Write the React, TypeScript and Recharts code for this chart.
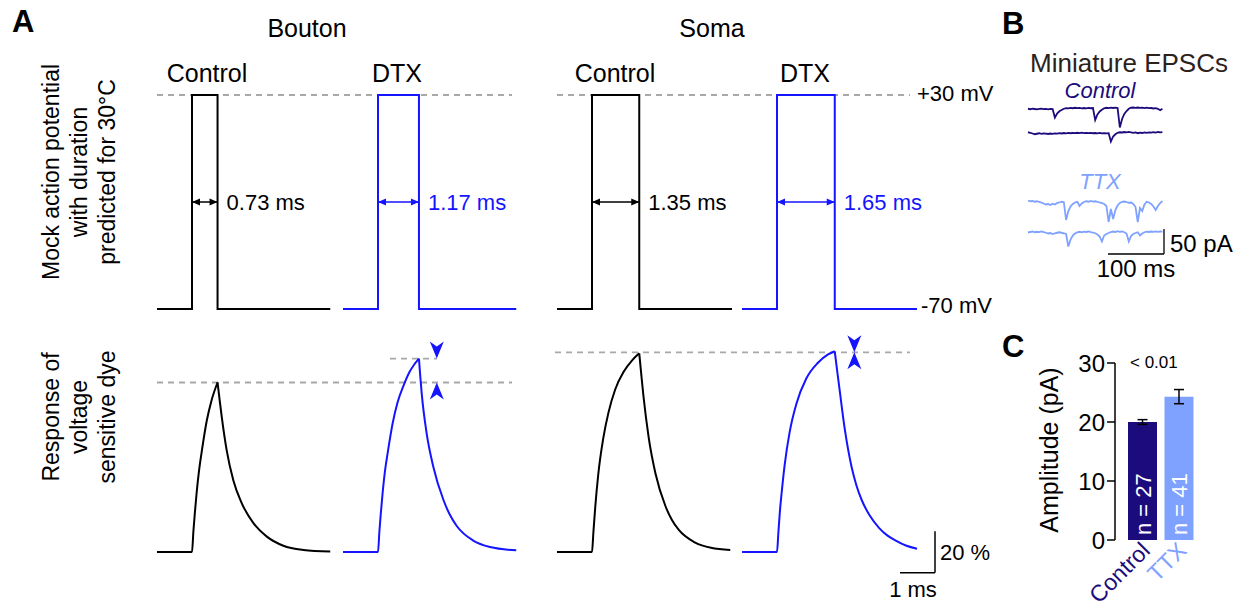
import React from 'react'
import {
  Bar,
  BarChart,
  Cell,
  ErrorBar,
  LabelList,
  Line,
  LineChart,
  ReferenceDot,
  ReferenceLine,
  XAxis,
  YAxis
} from 'recharts'

const W = 1249
const H = 608
const FONT = '"Liberation Sans", Arial, Helvetica, sans-serif'
const BLACK = '#000000'
const BLUE = '#1414ff'
const GREY = '#a8a8a8'
const NAVY = '#1b0b7c'
const LIGHT = '#7fa1ff'

// A, top: mock action potentials [ms, mV], drawn as steps
const boutonControlAP = [[0, -70], [1, 30], [1.73, -70], [4.95, -70]]
const boutonDtxAP = [[0, -70], [1, 30], [2.17, -70], [4.95, -70]]
const somaControlAP = [[0, -70], [1, 30], [2.35, -70], [5, -70]]
const somaDtxAP = [[0, -70], [1, 30], [2.65, -70], [5, -70]]

// A, bottom: dye response [ms, %], rise up to the peak and decay after it
const boutonControlRise = [[0, 0], [1, 0], [1.04, 10], [1.08, 18.5], [1.13, 28], [1.2, 39], [1.28, 48.5], [1.42, 63], [1.56, 73], [1.73, 81.5]]
const boutonControlDecay = [[1.73, 81.5], [1.79, 73], [1.85, 65], [1.99, 49], [2.18, 34.5], [2.42, 23.5], [2.75, 14], [3.13, 7.5], [3.61, 3], [4.18, 1], [4.95, 0.2]]
const boutonDtxRise = [[0, 0], [1, 0], [1.04, 10], [1.08, 18.5], [1.13, 28], [1.2, 39], [1.28, 48], [1.42, 62], [1.56, 72], [1.73, 80], [1.9, 86.5], [2.05, 90.5], [2.17, 93]]
const boutonDtxDecay = [[2.17, 93], [2.21, 84], [2.25, 76], [2.39, 57], [2.58, 41], [2.87, 25], [3.05, 18], [3.25, 12.5], [3.72, 5.5], [4.2, 2.4], [4.95, 0.8]]
const somaControlRise = [[0, 0], [1, 0], [1.04, 9.5], [1.09, 21], [1.18, 37.5], [1.32, 54.5], [1.47, 67], [1.66, 78], [1.9, 86.5], [2.14, 92], [2.35, 95.5]]
const somaControlDecay = [[2.35, 95.5], [2.41, 85], [2.47, 75], [2.62, 55], [2.81, 38], [3.1, 22], [3.28, 15.5], [3.48, 10.6], [3.95, 4.5], [4.4, 2], [4.95, 1]]
const somaDtxRise = [[0, 0], [1, 0], [1.04, 9.5], [1.09, 21], [1.13, 28], [1.22, 42], [1.36, 57.5], [1.55, 71], [1.84, 83.5], [2.17, 91], [2.46, 95], [2.65, 96.5]]
const somaDtxDecay = [[2.65, 96.5], [2.72, 87], [2.79, 77.8], [2.94, 58.7], [3.13, 41], [3.27, 32], [3.42, 25], [3.65, 17.5], [3.92, 11.5], [4.15, 8], [4.38, 5.6], [4.7, 3], [5, 1.6]]

const durationLabels = ['0.73 ms', '1.17 ms', '1.35 ms', '1.65 ms']
const boutonPeaks = [81.5, 93]
const somaPeak = 96

// B: miniature EPSCs, pA, one sample every 4 ms
const B_DT = 4
const controlSweep1 = [0.5, -0.5, 0.8, 0, -0.8, 0.3, 0.6, -0.4, 0.2, -0.6, 0.4, 0, -17, -9, -4.5, -2, 0.5, 1.8, 1.2, 2.2, 1.5, 2.5, 1.6, 2.4, 1.4, 2, 1.2, 2.3, 1.5, 2, -22, -11, -5, -1.5, 1.5, 2.5, 1.8, 2.8, 2, 2.6, 1.8, -37, -20, -10, -4, 0.5, 2.5, 3, 2.2, 3, 2.4, 2.8, 1.8, 2.6, 1.6, 2, 1, 1.6, 0.4, -2.5, 0.6]
const controlSweep2 = [1.5, 0.5, -1, -2.5, -1.5, -0.5, -1.8, -0.8, -1.2, -2, -1, -1.6, -0.6, -1.4, -0.4, -1, 0, -0.8, 0.2, -0.5, 0.3, -0.4, 0.5, -0.3, 0.6, -0.2, 0.4, -0.4, 0.2, -0.5, 0, -0.6, 0.1, -0.8, -0.2, -0.6, -0.2, -17, -7, -2.5, 0.5, 1.5, 1, 2, 1.2, 2.2, 1.4, 0.4, 1.2, -0.4, 0.8, 0, 1.2, 0.4, 1.4, 0.6, 1.6, 0.8, 2, 1.2, 1.8]
const ttxSweep1 = [3, 1.5, 2, 0.5, 1.5, 0, -1, -3, -5, -4, -6, -3.5, -5, -2, -1, 0.5, -0.5, -36, -18, -9, -4, -1, 0.5, -8, -3, 0, 1.5, 0.5, 2, 0.8, 1.5, 0.5, -1, -2, -4, -8, -40, -14, -34, -16, -7, -2, 0.5, 1, 0, -1.5, -1, -4, -10, -40, -12, -18, -5, 0.5, -1, -4, -9, -16, -8, -2, 2]
const ttxSweep2 = [0, 1, 2, 0.5, 1.5, 0.8, 2, 1, -0.5, -2, -1, -3, -1.5, -0.5, 0.5, -0.5, -1.5, -3, -28, -14, -6, -2, 0.5, 1.5, 0.5, 1.8, 1, 2, 0.8, 0, -1.5, -4, -8, -18, -6, -3, -1, 1, 2, 1, 2.5, 1.2, 2, 0.5, -2, -18, -7, -3, -1, 0.5, -6, -2, 0.5, 1.8, 1, 2, 1.4, 2.2, 1.4, 2, 1.6]

// C: mEPSC amplitude
const cCategories = ['Control', 'TTX']
const cMeans = [20.0, 24.3]
const cSem = [0.4, 1.2]
const cCounts = [27, 41]
const cColors = [NAVY, LIGHT]
const cTicks = [0, 10, 20, 30]

// layout helpers: px anchors -> axis domains
const span = (lo: number, hi: number, anchorPx: number, anchorVal: number, pxPerUnit: number, flip = false): [number, number] =>
  flip
    ? [anchorVal - (hi - anchorPx) / pxPerUnit, anchorVal + (anchorPx - lo) / pxPerUnit]
    : [anchorVal - (anchorPx - lo) / pxPerUnit, anchorVal + (hi - anchorPx) / pxPerUnit]

const A_X0 = 157
const A_PX_MS = 35
const aX = span(0, W, A_X0, 0, A_PX_MS)
const topY = span(0, 330, 95, 30, 2.14, true)
const botY = span(330, H, 552, 0, 2.08, true)
const px2t = (px: number) => (px - A_X0) / A_PX_MS

const traces = [
  { ap: boutonControlAP, rise: boutonControlRise, decay: boutonControlDecay, color: BLACK, x0: 157 },
  { ap: boutonDtxAP, rise: boutonDtxRise, decay: boutonDtxDecay, color: BLUE, x0: 343 },
  { ap: somaControlAP, rise: somaControlRise, decay: somaControlDecay, color: BLACK, x0: 557 },
  { ap: somaDtxAP, rise: somaDtxRise, decay: somaDtxDecay, color: BLUE, x0: 742 }
].map((tr, i) => ({ ...tr, off: px2t(tr.x0), on: tr.ap[1][0], offT: tr.ap[2][0], label: durationLabels[i] }))

const pts = (arr: number[][], off: number) => arr.map(([t, v]) => ({ t: t + off, v }))

const headLeft = (c: string) => (p: any) => <path d={`M${p.cx},${p.cy} l8,-3.5 l0,7 z`} fill={c} />
const headRight = (c: string) => (p: any) => <path d={`M${p.cx},${p.cy} l-8,-3.5 l0,7 z`} fill={c} />
const headDown = (c: string) => (p: any) => <path d={`M${p.cx},${p.cy} l-7,-17 l7,5 l7,-5 z`} fill={c} />
const headUp = (c: string) => (p: any) => <path d={`M${p.cx},${p.cy} l-7,17 l7,-5 l7,5 z`} fill={c} />

const NONE = { top: 0, right: 0, bottom: 0, left: 0 }
const dash = { stroke: GREY, strokeDasharray: '6 5', strokeWidth: 1.8 }

// B layout
const B_LEFT = 1020
const B_TOP = 90
const bX = span(B_LEFT, B_LEFT + 150, 1028, 0, 0.56)
const bY = span(B_TOP, 260, 260, 0, 0.5, true)
const sweeps = [
  { vals: controlSweep1, base: 302, color: NAVY },
  { vals: controlSweep2, base: 254, color: NAVY },
  { vals: ttxSweep1, base: 116, color: LIGHT },
  { vals: ttxSweep2, base: 55, color: LIGHT }
]
const barEnd = (1164 - 1028) / 0.56

const cData = cCategories.map((name, i) => ({ name, mean: cMeans[i], err: cSem[i], n: cCounts[i] }))

const CTick = (props: any) => {
  const { x, y, payload, index } = props
  return (
    <text
      x={x + 9}
      y={y + 4}
      transform={`rotate(-45, ${x + 9}, ${y + 4})`}
      textAnchor="end"
      fill={cColors[index]}
      fontSize={23}
      fontFamily={FONT}
    >
      {payload.value}
    </text>
  )
}

const NLabel = (props: any) => {
  const { x, y, width, height, value } = props
  const cx = x + width / 2 + 8
  const by = y + height - 5
  return (
    <text transform={`translate(${cx},${by}) rotate(-90)`} fill="#ffffff" fontSize={22} fontFamily={FONT}>
      n = {value}
    </text>
  )
}

const Abs = ({ left, top, children }: any) => (
  <div style={{ position: 'absolute', left, top }}>{children}</div>
)

export default function App() {
  return (
    <div style={{ position: 'absolute', left: 0, top: 0, width: W, height: H, background: '#fff', fontFamily: FONT }}>
      <Abs left={0} top={0}>
        <LineChart width={W} height={330} margin={NONE}>
          <XAxis type="number" dataKey="t" domain={aX} hide allowDataOverflow />
          <YAxis type="number" dataKey="v" domain={topY} hide allowDataOverflow />
          <ReferenceLine segment={[{ x: px2t(157), y: 30 }, { x: px2t(512), y: 30 }]} {...dash} />
          <ReferenceLine segment={[{ x: px2t(557), y: 30 }, { x: px2t(910), y: 30 }]} {...dash} />
          {traces.map((tr, i) => (
            <Line
              key={'ap' + i}
              data={pts(tr.ap, tr.off)}
              dataKey="v"
              type="stepAfter"
              stroke={tr.color}
              strokeWidth={2}
              dot={false}
              activeDot={false}
              isAnimationActive={false}
            />
          ))}
          {traces.map((tr, i) => (
            <ReferenceLine
              key={'sh' + i}
              segment={[{ x: tr.off + tr.on, y: -20 }, { x: tr.off + tr.offT, y: -20 }]}
              stroke={tr.color}
              strokeWidth={1.5}
            />
          ))}
          {traces.map((tr, i) => (
            <ReferenceDot key={'hl' + i} x={tr.off + tr.on} y={-20} shape={headLeft(tr.color)} />
          ))}
          {traces.map((tr, i) => (
            <ReferenceDot key={'hr' + i} x={tr.off + tr.offT} y={-20} shape={headRight(tr.color)} />
          ))}
        </LineChart>
      </Abs>

      <Abs left={0} top={330}>
        <LineChart width={W} height={H - 330} margin={NONE}>
          <XAxis type="number" dataKey="t" domain={aX} hide allowDataOverflow />
          <YAxis type="number" dataKey="v" domain={botY} hide allowDataOverflow />
          <ReferenceLine segment={[{ x: px2t(157), y: boutonPeaks[0] }, { x: px2t(512), y: boutonPeaks[0] }]} {...dash} />
          <ReferenceLine segment={[{ x: px2t(390), y: boutonPeaks[1] }, { x: px2t(437), y: boutonPeaks[1] }]} {...dash} />
          <ReferenceLine segment={[{ x: px2t(555), y: somaPeak }, { x: px2t(910), y: somaPeak }]} {...dash} />
          {traces.map((tr, i) => (
            <Line
              key={'r' + i}
              data={pts(tr.rise, tr.off)}
              dataKey="v"
              type="monotoneX"
              stroke={tr.color}
              strokeWidth={2}
              dot={false}
              activeDot={false}
              isAnimationActive={false}
            />
          ))}
          {traces.map((tr, i) => (
            <Line
              key={'d' + i}
              data={pts(tr.decay, tr.off)}
              dataKey="v"
              type="monotoneX"
              stroke={tr.color}
              strokeWidth={2}
              dot={false}
              activeDot={false}
              isAnimationActive={false}
            />
          ))}
          <ReferenceDot x={traces[1].off + 2.68} y={boutonPeaks[1]} shape={headDown(BLUE)} />
          <ReferenceDot x={traces[1].off + 2.68} y={boutonPeaks[0]} shape={headUp(BLUE)} />
          <ReferenceDot x={traces[3].off + 3.21} y={somaPeak} shape={headDown(BLUE)} />
          <ReferenceDot x={traces[3].off + 3.21} y={somaPeak} shape={headUp(BLUE)} />
          <ReferenceLine segment={[{ x: px2t(935) - 1, y: -10 }, { x: px2t(935), y: -10 }]} stroke={BLACK} strokeWidth={1.5} />
          <ReferenceLine segment={[{ x: px2t(935), y: -10 }, { x: px2t(935), y: 10 }]} stroke={BLACK} strokeWidth={1.5} />
        </LineChart>
      </Abs>

      <Abs left={B_LEFT} top={B_TOP}>
        <LineChart width={150} height={260 - B_TOP} margin={NONE}>
          <XAxis type="number" dataKey="t" domain={bX} hide allowDataOverflow />
          <YAxis type="number" dataKey="v" domain={bY} hide allowDataOverflow />
          {sweeps.map((s, i) => (
            <Line
              key={'s' + i}
              data={s.vals.map((v, k) => ({ t: k * B_DT, v: v + s.base }))}
              dataKey="v"
              type="linear"
              stroke={s.color}
              strokeWidth={1.8}
              dot={false}
              activeDot={false}
              isAnimationActive={false}
            />
          ))}
          <ReferenceLine segment={[{ x: barEnd - 100, y: 12 }, { x: barEnd, y: 12 }]} stroke={BLACK} strokeWidth={1.3} />
          <ReferenceLine segment={[{ x: barEnd, y: 12 }, { x: barEnd, y: 62 }]} stroke={BLACK} strokeWidth={1.3} />
        </LineChart>
      </Abs>

      <Abs left={1060} top={340}>
        <BarChart width={150} height={268} data={cData} margin={{ top: 23, right: 13, bottom: 0, left: 0 }}>
          <XAxis
            dataKey="name"
            axisLine={false}
            tickLine={false}
            height={68}
            padding={{ left: 9, right: 0 }}
            interval={0}
            tick={<CTick />}
          />
          <YAxis
            domain={[0, 30]}
            ticks={cTicks}
            width={55}
            tickSize={8}
            axisLine={{ stroke: BLACK, strokeWidth: 1.5 }}
            tickLine={{ stroke: BLACK, strokeWidth: 1.5 }}
            tick={{ fill: BLACK, fontSize: 24, fontFamily: FONT }}
          />
          <Bar dataKey="mean" barSize={29} isAnimationActive={false}>
            {cData.map((d, i) => (
              <Cell key={d.name} fill={cColors[i]} />
            ))}
            <ErrorBar dataKey="err" width={5} stroke={BLACK} strokeWidth={1.5} />
            <LabelList dataKey="n" content={NLabel} />
          </Bar>
        </BarChart>
      </Abs>

      <svg width={W} height={H} style={{ position: 'absolute', left: 0, top: 0, pointerEvents: 'none' }} fontFamily={FONT}>
        <text x={12} y={32} fontSize={31} fontWeight="bold">A</text>
        <text x={1002} y={34} fontSize={31} fontWeight="bold">B</text>
        <text x={1002} y={357} fontSize={31} fontWeight="bold">C</text>

        <text x={307} y={37} fontSize={25} textAnchor="middle">Bouton</text>
        <text x={712} y={37} fontSize={25} textAnchor="middle">Soma</text>
        <text x={207} y={82} fontSize={25} textAnchor="middle">Control</text>
        <text x={397} y={82} fontSize={25} textAnchor="middle">DTX</text>
        <text x={615} y={82} fontSize={25} textAnchor="middle">Control</text>
        <text x={805} y={82} fontSize={25} textAnchor="middle">DTX</text>
        <text x={917} y={101} fontSize={22}>+30 mV</text>
        <text x={921} y={313} fontSize={22}>-70 mV</text>
        {traces.map((tr, i) => (
          <text key={'dl' + i} x={tr.x0 + tr.offT * A_PX_MS + 9} y={210} fontSize={22} fill={tr.color}>
            {tr.label}
          </text>
        ))}

        <g fontSize={23} textAnchor="middle">
          <text transform="translate(59,172) rotate(-90)">Mock action potential</text>
          <text transform="translate(87,172) rotate(-90)">with duration</text>
          <text transform="translate(115,172) rotate(-90)">predicted for 30°C</text>
          <text transform="translate(59,417) rotate(-90)">Response of</text>
          <text transform="translate(87,417) rotate(-90)">voltage</text>
          <text transform="translate(115,417) rotate(-90)">sensitive dye</text>
        </g>
        <text x={940} y={560} fontSize={22}>20 %</text>
        <text x={913} y={597} fontSize={22} textAnchor="middle">1 ms</text>

        <text x={1030} y={72} fontSize={26} fill="#2d211c">Miniature EPSCs</text>
        <text x={1100} y={98} fontSize={22} fontStyle="italic" fill={NAVY} textAnchor="middle">Control</text>
        <text x={1100} y={189} fontSize={22} fontStyle="italic" fill={LIGHT} textAnchor="middle">TTX</text>
        <text x={1170} y={252} fontSize={24}>50 pA</text>
        <text x={1136} y={277} fontSize={24} textAnchor="middle">100 ms</text>

        <text x={1130} y={368} fontSize={17}>{'< 0.01'}</text>
        <text transform="translate(1058,450) rotate(-90)" fontSize={25} textAnchor="middle">Amplitude (pA)</text>
      </svg>
    </div>
  )
}
